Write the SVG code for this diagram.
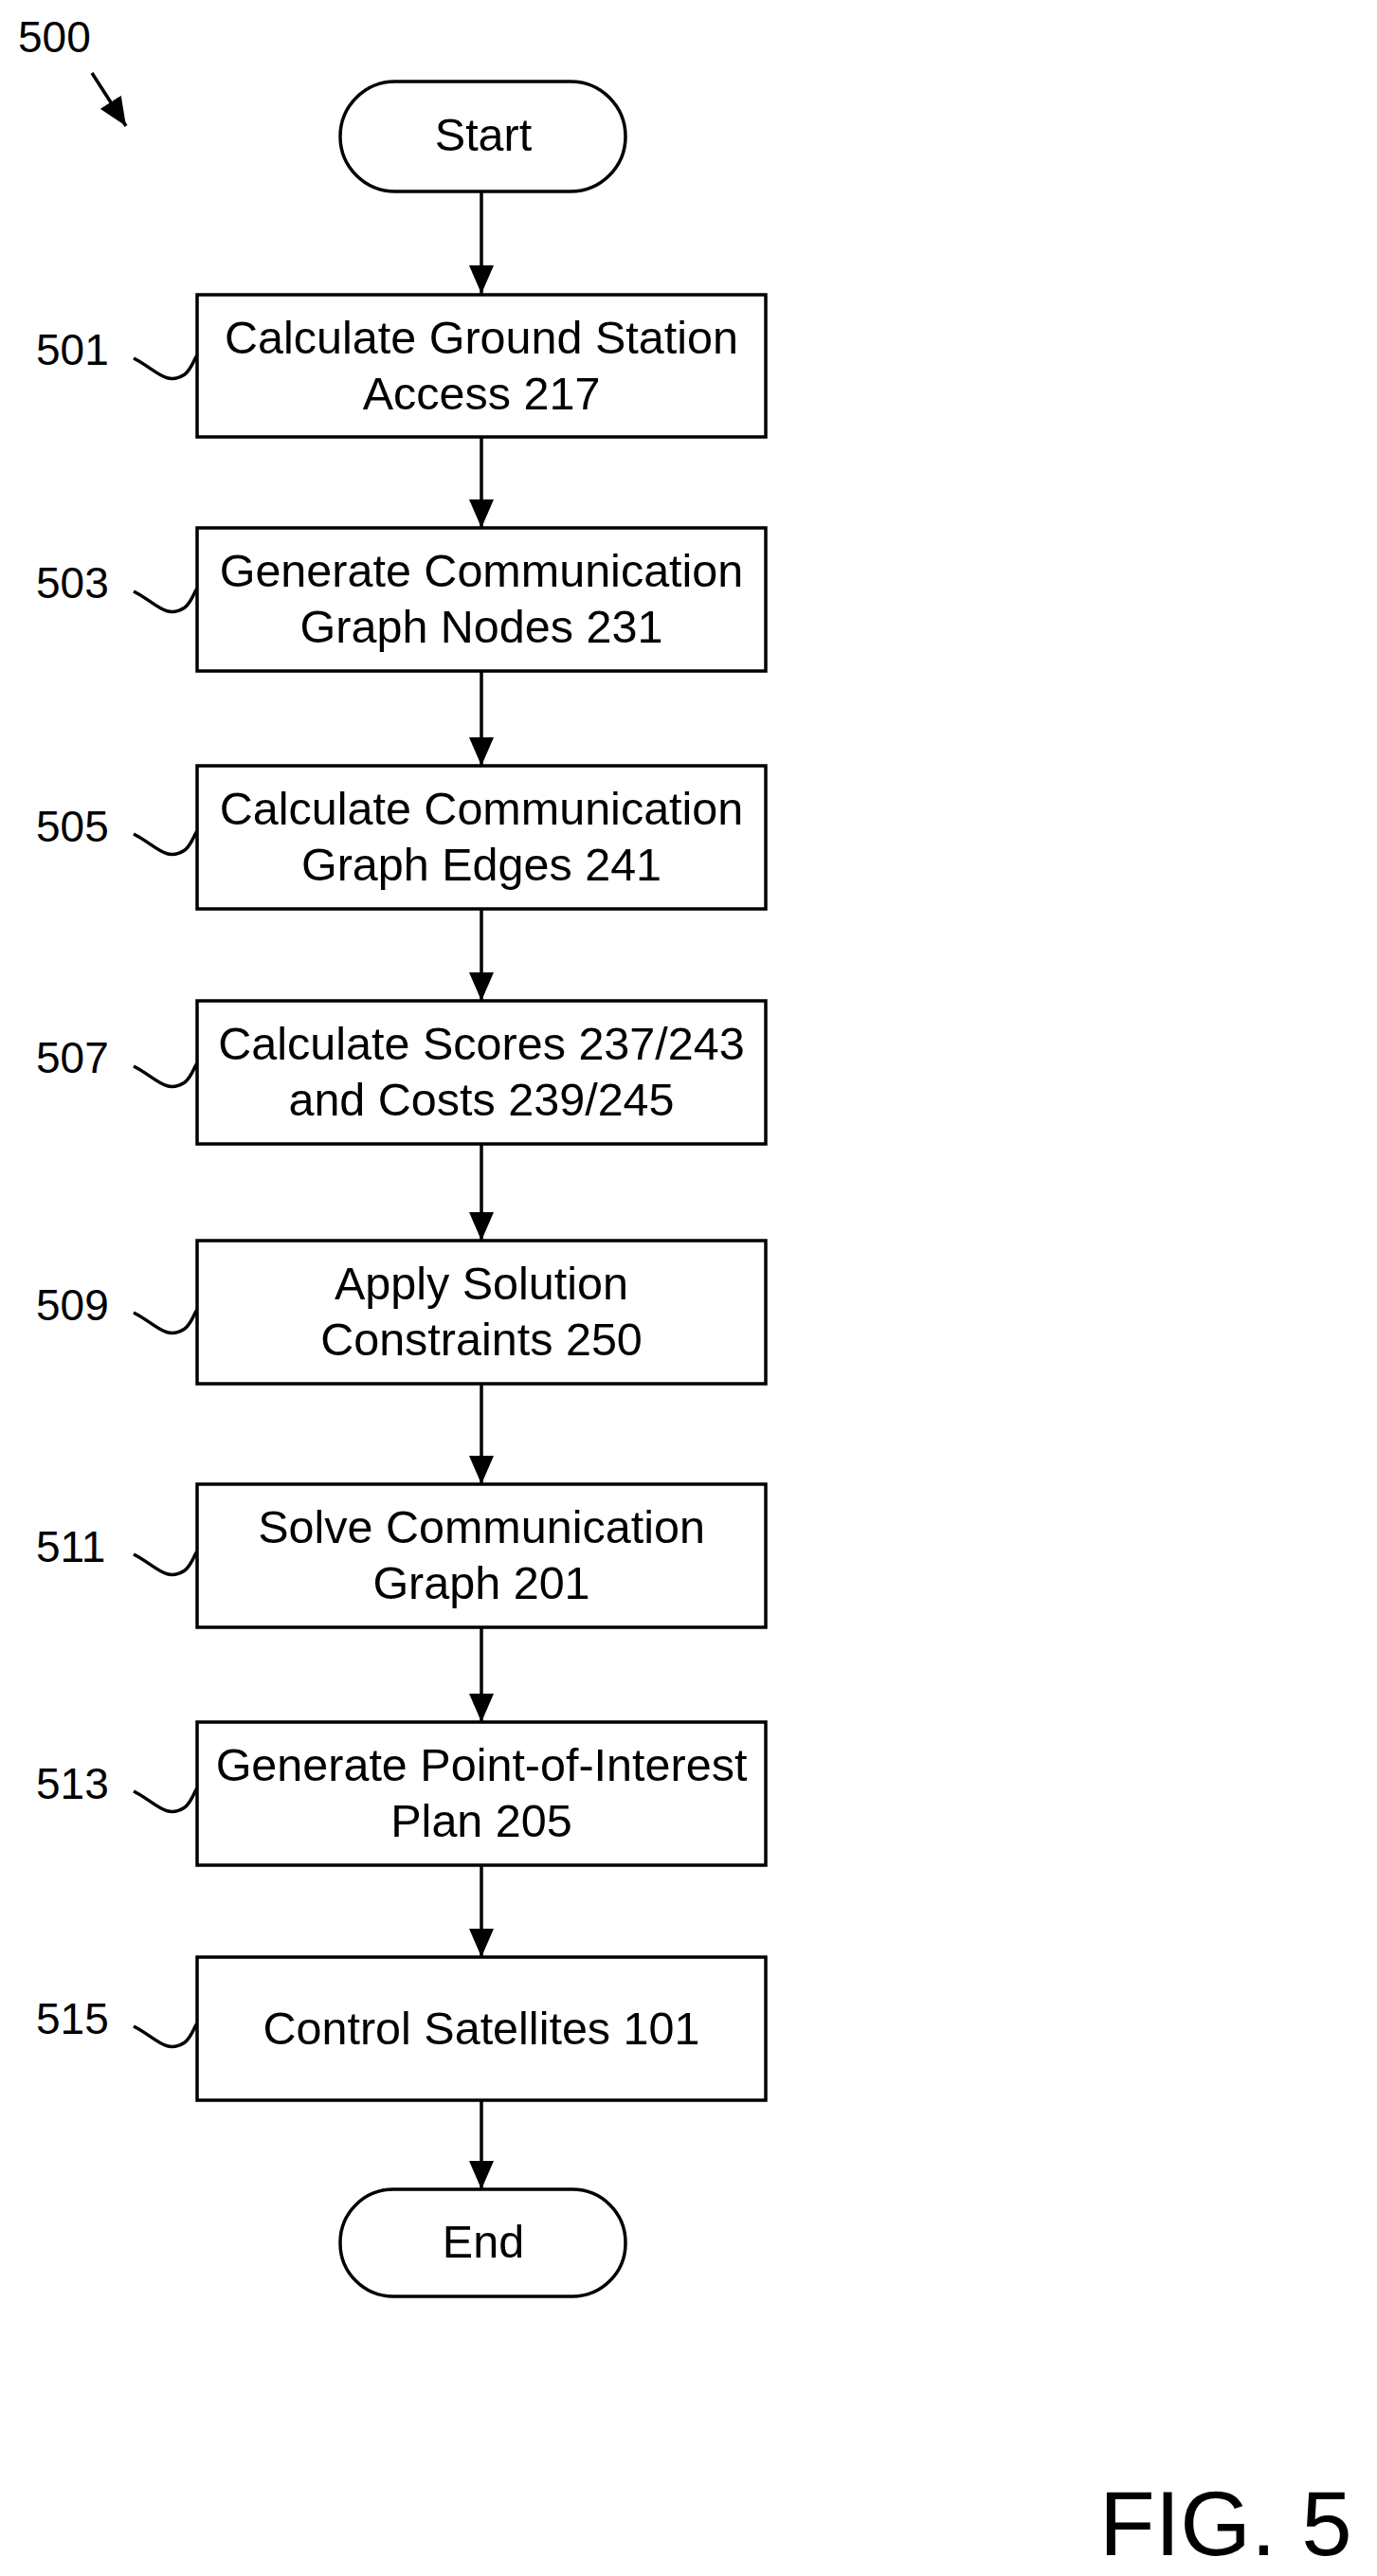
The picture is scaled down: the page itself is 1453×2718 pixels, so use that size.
<svg xmlns="http://www.w3.org/2000/svg" width="1453" height="2718" viewBox="0 0 1453 2718">
<style>
text{font-family:"Liberation Sans",Arial,sans-serif;fill:#000}
.t{font-size:48.5px;text-anchor:middle}
.l{font-size:46px}
.b{fill:#fff;stroke:#000;stroke-width:3.5}
.c{stroke:#000;stroke-width:3.5;fill:none}
</style>
<defs>
<marker id="h" viewBox="0 0 30 26" markerWidth="30" markerHeight="26" refX="30" refY="13" orient="auto" markerUnits="userSpaceOnUse"><path d="M0,0L30,13L0,26z"/></marker></defs>
<text class="l" x="19" y="55">500</text>
<line class="c" x1="97" y1="77" x2="133" y2="133" marker-end="url(#h)"/>
<g id="connectors">
<line class="c" x1="508" y1="202" x2="508" y2="310" marker-end="url(#h)"/>
<line class="c" x1="508" y1="461" x2="508" y2="557" marker-end="url(#h)"/>
<line class="c" x1="508" y1="708" x2="508" y2="808" marker-end="url(#h)"/>
<line class="c" x1="508" y1="959" x2="508" y2="1056" marker-end="url(#h)"/>
<line class="c" x1="508" y1="1207" x2="508" y2="1309" marker-end="url(#h)"/>
<line class="c" x1="508" y1="1460" x2="508" y2="1566" marker-end="url(#h)"/>
<line class="c" x1="508" y1="1717" x2="508" y2="1817" marker-end="url(#h)"/>
<line class="c" x1="508" y1="1968" x2="508" y2="2065" marker-end="url(#h)"/>
<line class="c" x1="508" y1="2216" x2="508" y2="2310" marker-end="url(#h)"/>
</g>
<g id="start"><rect class="b" x="359" y="86" width="301" height="116" rx="58"/><text class="t" x="510" y="159">Start</text></g>
<g id="n501"><rect class="b" x="208" y="311" width="600" height="150"/><text class="t" x="508" y="373">Calculate Ground Station</text><text class="t" x="508" y="432">Access 217</text>
<text class="l" x="38" y="385">501</text><path class="c" d="M141,378C165,390 175,408 195,395C203,388 205,378 208,375"/></g>
<g id="n503"><rect class="b" x="208" y="557" width="600" height="151"/><text class="t" x="508" y="619">Generate Communication</text><text class="t" x="508" y="678">Graph Nodes 231</text>
<text class="l" x="38" y="631">503</text><path class="c" d="M141,624C165,636 175,654 195,641C203,634 205,624 208,621"/></g>
<g id="n505"><rect class="b" x="208" y="808" width="600" height="151"/><text class="t" x="508" y="870">Calculate Communication</text><text class="t" x="508" y="929">Graph Edges 241</text>
<text class="l" x="38" y="888">505</text><path class="c" d="M141,880C165,892 175,910 195,897C203,890 205,880 208,877"/></g>
<g id="n507"><rect class="b" x="208" y="1056" width="600" height="151"/><text class="t" x="508" y="1118">Calculate Scores 237/243</text><text class="t" x="508" y="1177">and Costs 239/245</text>
<text class="l" x="38" y="1132">507</text><path class="c" d="M141,1125C165,1137 175,1155 195,1142C203,1135 205,1125 208,1122"/></g>
<g id="n509"><rect class="b" x="208" y="1309" width="600" height="151"/><text class="t" x="508" y="1371">Apply Solution</text><text class="t" x="508" y="1430">Constraints 250</text>
<text class="l" x="38" y="1393">509</text><path class="c" d="M141,1385C165,1397 175,1415 195,1402C203,1395 205,1385 208,1382"/></g>
<g id="n511"><rect class="b" x="208" y="1566" width="600" height="151"/><text class="t" x="508" y="1628">Solve Communication</text><text class="t" x="508" y="1687">Graph 201</text>
<text class="l" x="38" y="1648">511</text><path class="c" d="M141,1640C165,1652 175,1670 195,1657C203,1650 205,1640 208,1637"/></g>
<g id="n513"><rect class="b" x="208" y="1817" width="600" height="151"/><text class="t" x="508" y="1879">Generate Point-of-Interest</text><text class="t" x="508" y="1938">Plan 205</text>
<text class="l" x="38" y="1898">513</text><path class="c" d="M141,1890C165,1902 175,1920 195,1907C203,1900 205,1890 208,1887"/></g>
<g id="n515"><rect class="b" x="208" y="2065" width="600" height="151"/><text class="t" x="508" y="2157">Control Satellites 101</text>
<text class="l" x="38" y="2146">515</text><path class="c" d="M141,2138C165,2150 175,2168 195,2155C203,2148 205,2138 208,2135"/></g>
<g id="end"><rect class="b" x="359" y="2310" width="301" height="113" rx="56"/><text class="t" x="510" y="2382">End</text></g>
<text x="1160" y="2696" style="font-size:96px">FIG. 5</text>
</svg>
